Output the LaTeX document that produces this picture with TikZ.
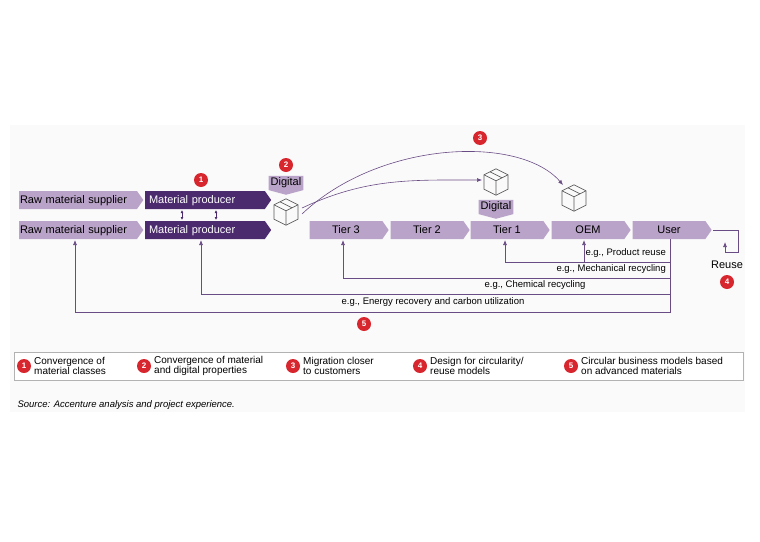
\documentclass[tikz,border=0pt]{standalone}
\usepackage{fontspec}
\setmainfont{Liberation Sans}
\usetikzlibrary{shapes.symbols,arrows.meta}
\definecolor{lilac}{HTML}{B9A3C8}
\definecolor{plum}{HTML}{4B2A6E}
\definecolor{redmark}{HTML}{D8262E}
\definecolor{loopline}{HTML}{6A4C85}
\tikzset{
  chev/.style={signal, signal to=east, signal pointer angle=110, minimum height=18pt, inner sep=1pt, font=\fontsize{11}{12}\selectfont, text depth=0pt},
  tierstep/.style={chev, fill=lilac, text=black, minimum width=79pt},
  prod/.style={chev, fill=plum, text=white, minimum width=126pt, text width=112pt, align=left},
  supp/.style={chev, fill=lilac, text=black, minimum width=124pt, text width=116pt, align=left},
  redmark/.style={circle, fill=redmark, text=white, inner sep=0pt, minimum size=14pt, font=\bfseries\fontsize{8}{8}\selectfont},
  tag/.style={signal, signal to=south, signal pointer angle=150, fill=lilac, inner sep=2pt, font=\fontsize{11}{12}\selectfont},
  note/.style={font=\fontsize{9.5}{10}\selectfont, inner sep=1pt},
  tip/.style={-{Latex[length=5pt,width=4pt]}},
  back/.style={loopline, line width=0.7pt},
  legend/.style={font=\fontsize{10}{10.5}\selectfont, align=left, anchor=west, inner sep=0pt}
}
\newcommand{\parcel}[2]{% small box icon
  \begin{scope}[shift={#1}, scale=1.2, gray!70!black, line width=0.6pt]
    \draw (0,-11) -- (10,-6) -- (10,6) -- (0,11) -- (-10,6) -- (-10,-6) -- cycle;
    \draw (-10,-6) -- (0,-1) -- (10,-6) (0,-1) -- (0,11);
    \draw (-5,-8.5) -- (5,-3.5);
  \end{scope}
  \coordinate (#2) at #1;}
\begin{document}
\begin{tikzpicture}[x=1pt,y=-1pt]
  \useasboundingbox (0,0) rectangle (760,541);
  \fill[black!2] (10,125) rectangle (745,412);
  % supply rows
  \node[supp] (raw1) at (78,200) {Raw material supplier};
  \node[prod] (prod1) at (205,200) {Material producer};
  \node[supp] (raw2) at (78,230) {Raw material supplier};
  \node[prod] (prod2) at (205,230) {Material producer};
  \foreach \x in {182,216}
    \draw[{Latex[length=3pt,width=3pt]}-{Latex[length=3pt,width=3pt]}, plum, line width=0.7pt] (\x,210) -- (\x,220);
  \node[tierstep] (tier3) at (346,230) {Tier 3};
  \node[tierstep] (tier2) at (427,230) {Tier 2};
  \node[tierstep] (tier1) at (507,230) {Tier 1};
  \node[tierstep] (oem) at (588,230) {OEM};
  \node[tierstep] (user) at (669,230) {User};
  % digital boxes
  \parcel{(286,212)}{box0}
  \parcel{(496,182)}{box1}
  \parcel{(574,198)}{box2}
  \node[tag] (dig0) at (286,183) {Digital};
  \node[tag] (dig1) at (496,207) {Digital};
  \draw[tip, loopline, line width=0.6pt] (302,208) to[out=25, in=180] (482,180);
  \draw[tip, loopline, line width=0.6pt] (302,214) .. controls (380,140) and (520,135) .. (563,185);
  % loops back
  \draw[back] (670,239) -- (670,313);
  \draw[back, tip] (670,262) -- (505,262) -- (505,240);
  \draw[back, tip] (584,262) -- (584,240);
  \node[note, anchor=south east] (n1) at (667,259) {e.g., Product reuse};
  \draw[back, tip] (670,278) -- (343,278) -- (343,240);
  \node[note, anchor=south east] (n2) at (667,275) {e.g., Mechanical recycling};
  \draw[back, tip] (670,294) -- (201,294) -- (201,240);
  \node[note] (n3) at (535,285) {e.g., Chemical recycling};
  \draw[back, tip] (670,312) -- (75,312) -- (75,240);
  \node[note] (n4) at (433,302) {e.g., Energy recovery and carbon utilization};
  \draw[back, tip] (713,230) -- (738,230) -- (738,252) -- (725,252) -- (725,242);
  \node[font=\fontsize{11}{12}\selectfont] (reuse) at (727,265) {Reuse};
  % markers
  \node[redmark] (m1) at (201,180) {1};
  \node[redmark] (m2) at (286,165) {2};
  \node[redmark] (m3) at (480,138) {3};
  \node[redmark] (m4) at (727,282) {4};
  \node[redmark] (m5) at (364,324) {5};
  % legend
  \draw[gray!60, line width=0.8pt, fill=white] (14,352) rectangle (743,380);
  \foreach \x/\n/\t in {24/1/{Convergence of\\material classes},
                        144/2/{Convergence of material\\and digital properties},
                        293/3/{Migration closer\\to customers},
                        420/4/{Design for circularity/\\reuse models},
                        571/5/{Circular business models based\\on advanced materials}} {
    \node[redmark] (l\n) at (\x,366) {\n};
    \node[legend] at (\x+10,366) {\t};
  }
  \node[font=\itshape\fontsize{9.5}{10}\selectfont, anchor=west] (src) at (14,405) {Source: Accenture analysis and project experience.};
\end{tikzpicture}
\end{document}
